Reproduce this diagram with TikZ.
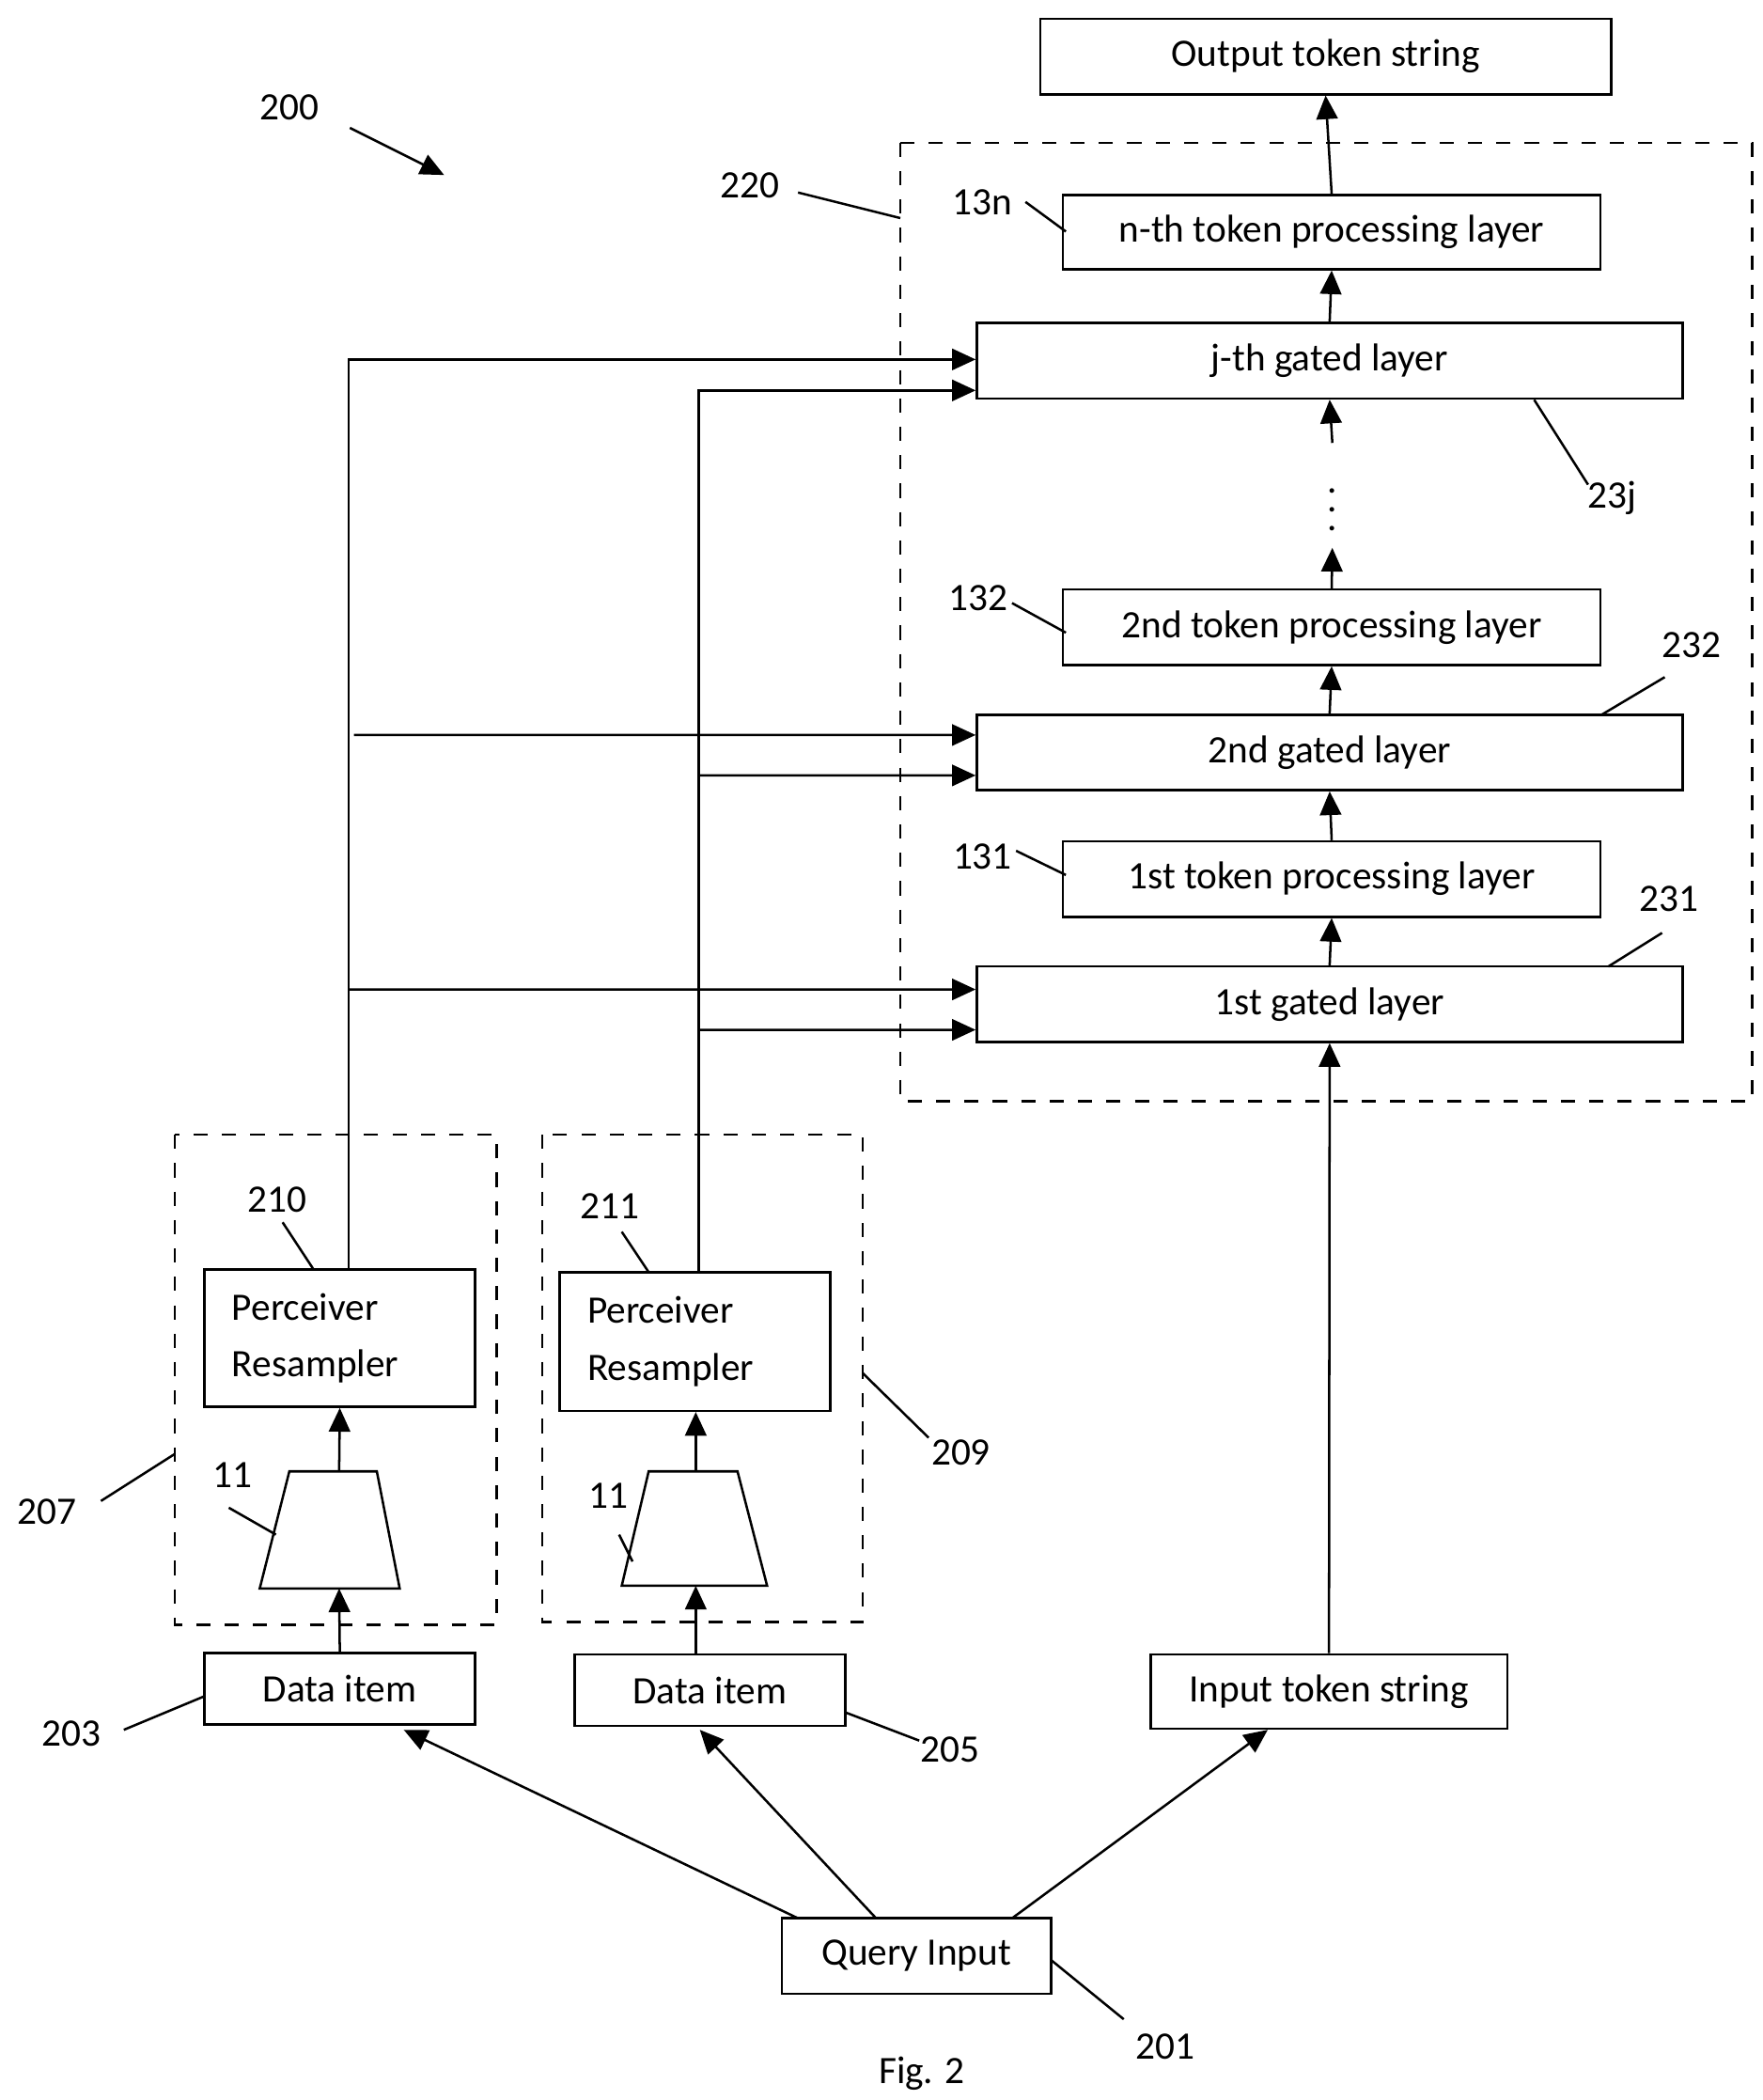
\documentclass[tikz,border=0pt]{standalone}
\usepackage{fontspec}
\setmainfont{Carlito}
\usetikzlibrary{arrows.meta,shapes.geometric}
\tikzset{
 box/.style={draw,rectangle,inner sep=0pt},
 lay/.style={box,font=\fontsize{8.2}{10}\selectfont},
 lbl/.style={font=\fontsize{8.2}{10}\selectfont},
 ar/.style={-{Triangle[length=5pt,width=4.5pt]}},
 ln/.style={line width=0.5pt}
}
\begin{document}
\begin{tikzpicture}[x=0.01cm,y=-0.01cm,line width=0.5pt]
\useasboundingbox (0,0) rectangle (1310,1560);
% boxes
\node[lay,minimum width=4.24cm,minimum height=0.56cm] (out) at (985,42) {Output token string};
\node[lay,minimum width=3.99cm,minimum height=0.55cm] (tpn) at (989.5,172.5) {n-th token processing layer};
\node[lay,minimum width=5.24cm,minimum height=0.56cm] (gj) at (988,268) {j-th gated layer};
\node[lay,minimum width=3.99cm,minimum height=0.56cm] (tp2) at (989.5,466) {2nd token processing layer};
\node[lay,minimum width=5.24cm,minimum height=0.56cm] (g2) at (988,559) {2nd gated layer};
\node[lay,minimum width=3.99cm,minimum height=0.56cm] (tp1) at (989.5,653) {1st token processing layer};
\node[lay,minimum width=5.24cm,minimum height=0.56cm] (g1) at (988,746) {1st gated layer};
\node[lbl,minimum height=0.6cm] (dots) at (990,368) {$\vdots$};
\draw[dashed] (669,106) rectangle (1302,818);
\draw[dashed] (130,843) rectangle (369,1207);
\draw[dashed] (403,843) rectangle (641,1205);
\node[lay,minimum width=2.01cm,minimum height=1.02cm,align=left,text width=1.6cm] (pr1) at (252.5,994) {Perceiver\\[2pt]Resampler};
\node[lay,minimum width=2.01cm,minimum height=1.03cm,align=left,text width=1.6cm] (pr2) at (516.5,996.5) {Perceiver\\[2pt]Resampler};
\draw (215,1093) -- (280,1093) -- (297,1180) -- (193,1180) -- cycle;
\draw (482,1093) -- (548,1093) -- (570,1178) -- (462,1178) -- cycle;
\coordinate (e1t) at (252,1093); \coordinate (e1b) at (252,1180);
\coordinate (e2t) at (517,1093); \coordinate (e2b) at (517,1178);
\node[lay,minimum width=2.01cm,minimum height=0.53cm] (d1) at (252.5,1254.5) {Data item};
\node[lay,minimum width=2.01cm,minimum height=0.53cm] (d2) at (527.5,1255.5) {Data item};
\node[lay,minimum width=2.65cm,minimum height=0.55cm] (inp) at (987.5,1256.5) {Input token string};
\node[lay,minimum width=2.0cm,minimum height=0.56cm] (q) at (681,1453) {Query Input};
\node[lbl] (fig) at (685,1540) {Fig. 2};
% main flow
\draw[ar] (inp.north) -- (g1.south);
\draw[ar] (g1.north) -- (tp1.south);
\draw[ar] (tp1.north) -- (g2.south);
\draw[ar] (g2.north) -- (tp2.south);
\draw[ar] (tp2.north) -- (dots.south);
\draw[ar] (dots.north) -- (gj.south);
\draw[ar] (gj.north) -- (tpn.south);
\draw[ar] (tpn.north) -- (out.south);
\draw[ar] (d1.north) -- (e1b);
\draw[ar] (e1t) -- (pr1.south);
\draw[ar] (e2b |- d2.north) -- (e2b);
\draw[ar] (e2t) -- (pr2.south -| e2t);
\draw[ar] (593,1425) -- (300,1285);
\draw[ar] (651,1425) -- (520,1285);
\draw[ar] (752,1425) -- (942,1285);
% resampler outputs
\coordinate (a1) at (259,943); \coordinate (a2) at (519,945);
\draw[ar] (a1) |- ([yshift=0.01cm]gj.west);
\draw[ar] (263,546) -- ([yshift=0.13cm]g2.west);
\draw[ar] (259,735) -- ([yshift=0.11cm]g1.west);
\draw[ar] (a2) |- ([yshift=-0.22cm]gj.west);
\draw[ar] (519,576) -- ([yshift=-0.17cm]g2.west);
\draw[ar] (519,765) -- ([yshift=-0.19cm]g1.west);
% reference labels
\node[lbl] (n200) at (215,80) {200}; \draw[ar] (260,95) -- (330,130);
\node[lbl] (n220) at (557,138) {220}; \draw (593,143) -- (669,162);
\node[lbl] (n13n) at (730,150) {13n}; \draw (762,150) -- (792,172);
\node[lbl] (n23j) at (1198,370) {23j}; \draw (1140,297) -- (1180,360);
\node[lbl] (n132) at (727,444) {132}; \draw (752,448) -- (792,470);
\node[lbl] (n232) at (1257,479) {232}; \draw (1237,503) -- (1190,531);
\node[lbl] (n131) at (730,636) {131}; \draw (755,632) -- (792,650);
\node[lbl] (n231) at (1240,668) {231}; \draw (1235,693) -- (1195,718);
\node[lbl] (n210) at (206,891) {210}; \draw (210,908) -- (233,943);
\node[lbl] (n211) at (453,896) {211}; \draw (462,915) -- (482,945);
\node[lbl] (n207) at (35,1123) {207}; \draw (75,1115) -- (130,1080);
\node[lbl] (n209) at (714,1079) {209}; \draw (690,1068) -- (641,1020);
\node[lbl] (n11a) at (173,1096) {11}; \draw (170,1120) -- (205,1140);
\node[lbl] (n11b) at (452,1111) {11}; \draw (460,1140) -- (470,1160);
\node[lbl] (n203) at (53,1288) {203}; \draw (92,1285) -- (152,1260);
\node[lbl] (n205) at (706,1300) {205}; \draw (683,1293) -- (628,1272);
\node[lbl] (n201) at (866,1520) {201}; \draw (835,1500) -- (781,1456);
\end{tikzpicture}
\end{document}
